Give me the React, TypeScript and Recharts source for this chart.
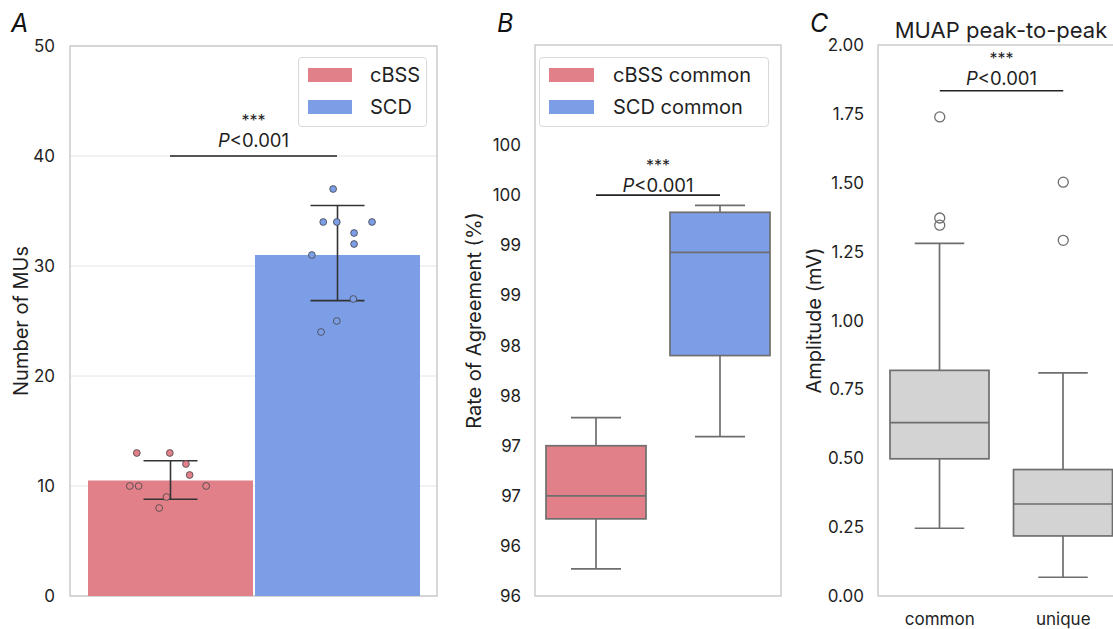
import React from 'react';
import {
  ComposedChart,
  Bar,
  ErrorBar,
  Scatter,
  XAxis,
  YAxis,
  CartesianGrid,
  ReferenceLine,
  ReferenceArea,
  Legend,
} from 'recharts';

const FONT = 'Inter, "Noto Sans", sans-serif';
const INK = '#1f1f1f';
const RED = '#e2808a';
const BLUE = '#7c9ee6';
const BOX_GRAY = '#d3d3d3';
const EDGE = '#6e6e6e';
const FRAME = '#cccccc';

// A: number of MUs
const methodNames = ['cBSS', 'SCD'];
const muMeans = [10.5, 31.0];
const muLow = [8.8, 26.85];
const muHigh = [12.3, 35.5];
const cbssCounts = [13, 13, 12, 11, 10, 10, 10, 9, 8];
const cbssJitter = [-0.318, -0.228, -0.184, -0.174, -0.337, -0.313, -0.129, -0.237, -0.257];
const scdCounts = [37, 34, 34, 34, 33, 32, 31, 27, 25, 24];
const scdJitter = [0.217, 0.19, 0.227, 0.323, 0.274, 0.274, 0.159, 0.272, 0.227, 0.184];
const muTicks = [0, 10, 20, 30, 40, 50];

// B: rate of agreement
const agreeNames = ['cBSS common', 'SCD common'];
const agreeLow = [96.27, 97.59];
const agreeQ1 = [96.77, 98.4];
const agreeMedian = [97.0, 99.43];
const agreeQ3 = [97.5, 99.83];
const agreeHigh = [97.78, 99.9];
const agreeTicks = [96, 96.5, 97, 97.5, 98, 98.5, 99, 99.5, 100, 100.5];
const agreeTickLabels = ['96', '96', '97', '97', '98', '98', '99', '99', '100', '100'];
const agreeBracketX = [-0.252, 0.252];
const agreeBracketY = 100.0;

// C: MUAP amplitude
const ampCats = ['common', 'unique'];
const ampLow = [0.246, 0.068];
const ampQ1 = [0.498, 0.218];
const ampMedian = [0.629, 0.334];
const ampQ3 = [0.819, 0.459];
const ampHigh = [1.28, 0.81];
const outlierCat = [0, 0, 0, 1, 1];
const outlierVals = [1.739, 1.372, 1.346, 1.502, 1.291];
const ampTicks = [0, 0.25, 0.5, 0.75, 1.0, 1.25, 1.5, 1.75, 2.0];

const rowsA = [
  {
    group: 'MUs',
    cBSS: muMeans[0],
    SCD: muMeans[1],
    cBSSErr: [muMeans[0] - muLow[0], muHigh[0] - muMeans[0]],
    SCDErr: [muMeans[1] - muLow[1], muHigh[1] - muMeans[1]],
  },
];
const dotsCbss = cbssCounts.map((v, i) => ({ x: cbssJitter[i], y: v }));
const dotsScd = scdCounts.map((v, i) => ({ x: scdJitter[i], y: v }));

const rowsB = [
  {
    group: 'agreement',
    cbss: [agreeQ1[0], agreeQ3[0]],
    scd: [agreeQ1[1], agreeQ3[1]],
  },
];
const bracketB = agreeBracketX.map((x) => ({ x, y: agreeBracketY }));

const rowsC = ampCats.map((c, i) => ({ cat: c, iqr: [ampQ1[i], ampQ3[i]] }));
const outliers = outlierVals.map((v, i) => ({ x: outlierCat[i], y: v }));

type Stats = { lo: number; q1: number; med: number; q3: number; hi: number };

function renderBox(p: any, s: Stats, fill: string) {
  const { x, y, width, height } = p;
  const top = Math.min(y, y + height);
  const h = Math.abs(height);
  const k = h / (s.q3 - s.q1);
  const py = (v: number) => top + (s.q3 - v) * k;
  const cx = x + width / 2;
  const cap = width / 4;
  const line = { stroke: EDGE, strokeWidth: 1.7 };
  return (
    <g>
      <line x1={cx} x2={cx} y1={py(s.q3)} y2={py(s.hi)} {...line} />
      <line x1={cx - cap} x2={cx + cap} y1={py(s.hi)} y2={py(s.hi)} {...line} />
      <line x1={cx} x2={cx} y1={py(s.q1)} y2={py(s.lo)} {...line} />
      <line x1={cx - cap} x2={cx + cap} y1={py(s.lo)} y2={py(s.lo)} {...line} />
      <rect x={x} y={top} width={width} height={h} fill={fill} {...line} />
      <line x1={x} x2={x + width} y1={py(s.med)} y2={py(s.med)} {...line} />
    </g>
  );
}

function statsAt(i: number, lo: number[], q1: number[], med: number[], q3: number[], hi: number[]): Stats {
  return { lo: lo[i], q1: q1[i], med: med[i], q3: q3[i], hi: hi[i] };
}

function renderSig(p: any, starsDy: number, pDy: number, pSize: number) {
  const vb = p.viewBox || {};
  const cx = vb.x + vb.width / 2;
  return (
    <g>
      <text x={cx} y={vb.y + starsDy} textAnchor="middle" fontSize={16} fill={INK} fontFamily={FONT}>
        ***
      </text>
      <text x={cx} y={vb.y + pDy} textAnchor="middle" fontSize={pSize} fill={INK} fontFamily={FONT}>
        <tspan fontStyle="italic">P</tspan>&lt;0.001
      </text>
    </g>
  );
}

function LegendBox({ names, colors, width, swatch, gap }: any) {
  return (
    <div
      style={{
        width,
        height: 70,
        boxSizing: 'border-box',
        border: '1px solid #d9d9d9',
        borderRadius: 4,
        background: '#fff',
        padding: '1px 0 0 9px',
        fontFamily: FONT,
        fontSize: 20,
        color: INK,
      }}
    >
      {names.map((n: string, i: number) => (
        <div key={n} style={{ display: 'flex', alignItems: 'center', height: 32 }}>
          <span style={{ width: swatch, height: 14, background: colors[i], display: 'inline-block' }} />
          <span style={{ marginLeft: gap, lineHeight: '20px' }}>{n}</span>
        </div>
      ))}
    </div>
  );
}

const tickStyle = { fontSize: 17, fill: INK, fontFamily: FONT };
const axisLabel = (value: string, dx: number) => ({
  value,
  angle: -90,
  position: 'center' as const,
  dx,
  style: { fontSize: 20, fill: INK, fontFamily: FONT, textAnchor: 'middle' },
});

function Dot(color: string) {
  return (p: any) => <circle cx={p.cx} cy={p.cy} r={3.4} fill={color} stroke="#444" strokeWidth={0.8} />;
}

function Ring(p: any) {
  return <circle cx={p.cx} cy={p.cy} r={5} fill="none" stroke={EDGE} strokeWidth={1.3} />;
}

function NoMark() {
  return <g />;
}

const letter = (ch: string, left: number) => (
  <div
    style={{
      position: 'absolute',
      left,
      top: 8,
      fontFamily: FONT,
      fontStyle: 'italic',
      fontSize: 25,
      color: '#111',
      lineHeight: '30px',
    }}
  >
    {ch}
  </div>
);

export default function App() {
  return (
    <div
      style={{
        position: 'fixed',
        left: 0,
        top: 0,
        width: 1113,
        height: 629,
        overflow: 'hidden',
        background: '#fff',
      }}
    >
      {letter('A', 11)}
      {letter('B', 497)}
      {letter('C', 810)}
      <div
        style={{
          position: 'absolute',
          left: 801,
          top: 15,
          width: 400,
          textAlign: 'center',
          fontFamily: FONT,
          fontSize: 22,
          color: INK,
          lineHeight: '30px',
        }}
      >
        MUAP peak-to-peak
      </div>

      {/* A */}
      <div style={{ position: 'absolute', left: 0, top: 0 }}>
        <ComposedChart
          width={450}
          height={629}
          data={rowsA}
          margin={{ top: 46, right: 13, bottom: 33, left: 0 }}
          barGap={2}
          barSize={165}
        >
          <CartesianGrid vertical={false} stroke="#e4e4e4" xAxisId="num" />
          <XAxis xAxisId="cat" dataKey="group" hide />
          <XAxis xAxisId="num" dataKey="x" type="number" domain={[-0.5, 0.5]} allowDataOverflow hide />
          <YAxis
            domain={[0, 50]}
            ticks={muTicks}
            width={70}
            axisLine={false}
            tickLine={false}
            tickSize={0}
            tickMargin={15}
            tick={tickStyle}
            label={axisLabel('Number of MUs', -14)}
          />
          <ReferenceArea
            xAxisId="num"
            x1={-0.5}
            x2={0.5}
            y1={0}
            y2={50}
            fill="none"
            stroke={FRAME}
            strokeWidth={1.5}
            ifOverflow="visible"
          />
          <Bar xAxisId="cat" dataKey="cBSS" name={methodNames[0]} fill={RED} isAnimationActive={false}>
            <ErrorBar dataKey="cBSSErr" width={27} stroke="#333" strokeWidth={1.6} isAnimationActive={false} />
          </Bar>
          <Bar xAxisId="cat" dataKey="SCD" name={methodNames[1]} fill={BLUE} isAnimationActive={false}>
            <ErrorBar dataKey="SCDErr" width={27} stroke="#333" strokeWidth={1.6} isAnimationActive={false} />
          </Bar>
          <Scatter xAxisId="num" data={dotsCbss} dataKey="y" shape={Dot(RED)} legendType="none" isAnimationActive={false} />
          <Scatter xAxisId="num" data={dotsScd} dataKey="y" shape={Dot(BLUE)} legendType="none" isAnimationActive={false} />
          <ReferenceLine
            xAxisId="num"
            segment={[
              { x: -0.2275, y: 40 },
              { x: 0.2275, y: 40 },
            ]}
            stroke="#222"
            strokeWidth={1.5}
            ifOverflow="visible"
            label={(p: any) => renderSig(p, -30, -9, 18.5)}
          />
          <Legend
            layout="vertical"
            align="center"
            verticalAlign="middle"
            wrapperStyle={{ left: 298, top: 57, width: 129, height: 70 }}
            content={() => <LegendBox names={methodNames} colors={[RED, BLUE]} width={129} swatch={44} gap={18} />}
          />
        </ComposedChart>
      </div>

      {/* B */}
      <div style={{ position: 'absolute', left: 450, top: 0 }}>
        <ComposedChart
          width={345}
          height={629}
          data={rowsB}
          margin={{ top: 45, right: 14, bottom: 33, left: 0 }}
          barGap={24}
          barSize={100}
        >
          <XAxis xAxisId="cat" dataKey="group" hide />
          <XAxis xAxisId="num" dataKey="x" type="number" domain={[-0.5, 0.5]} allowDataOverflow hide />
          <YAxis
            domain={[96, 101.5]}
            ticks={agreeTicks}
            tickFormatter={(_v: number, i: number) => agreeTickLabels[i]}
            width={85}
            axisLine={false}
            tickLine={false}
            tickSize={0}
            tickMargin={14}
            tick={tickStyle}
            label={axisLabel('Rate of Agreement (%)', -18.5)}
          />
          <ReferenceArea
            xAxisId="num"
            x1={-0.5}
            x2={0.5}
            y1={96}
            y2={101.5}
            fill="none"
            stroke={FRAME}
            strokeWidth={1.5}
            ifOverflow="visible"
          />
          <Bar
            xAxisId="cat"
            dataKey="cbss"
            name={agreeNames[0]}
            fill={RED}
            isAnimationActive={false}
            shape={(p: any) => renderBox(p, statsAt(0, agreeLow, agreeQ1, agreeMedian, agreeQ3, agreeHigh), RED)}
          />
          <Bar
            xAxisId="cat"
            dataKey="scd"
            name={agreeNames[1]}
            fill={BLUE}
            isAnimationActive={false}
            shape={(p: any) => renderBox(p, statsAt(1, agreeLow, agreeQ1, agreeMedian, agreeQ3, agreeHigh), BLUE)}
          />
          <Scatter
            xAxisId="num"
            data={bracketB}
            dataKey="y"
            shape={NoMark}
            line={{ stroke: '#222', strokeWidth: 1.5 }}
            legendType="none"
            isAnimationActive={false}
          />
          <ReferenceLine
            xAxisId="num"
            segment={[
              { x: agreeBracketX[0], y: agreeBracketY },
              { x: agreeBracketX[1], y: agreeBracketY },
            ]}
            stroke="#222"
            strokeWidth={1.5}
            ifOverflow="visible"
            label={(p: any) => renderSig(p, -24, -3.5, 18.5)}
          />
          <Legend
            layout="vertical"
            align="center"
            verticalAlign="middle"
            wrapperStyle={{ left: 89, top: 57, width: 230, height: 70 }}
            content={() => <LegendBox names={agreeNames} colors={[RED, BLUE]} width={230} swatch={45} gap={19} />}
          />
        </ComposedChart>
      </div>

      {/* C */}
      <div style={{ position: 'absolute', left: 795, top: 0 }}>
        <ComposedChart
          width={340}
          height={629}
          data={rowsC}
          margin={{ top: 45, right: 10, bottom: 0, left: 0 }}
          barSize={99}
        >
          <XAxis
            xAxisId="cat"
            dataKey="cat"
            height={33}
            axisLine={false}
            tickLine={false}
            tickSize={0}
            tickMargin={17}
            tick={tickStyle}
          />
          <XAxis xAxisId="num" dataKey="x" type="number" domain={[-0.5, 1.5]} allowDataOverflow hide />
          <YAxis
            domain={[0, 2]}
            ticks={ampTicks}
            tickFormatter={(v: number) => v.toFixed(2)}
            width={83}
            axisLine={false}
            tickLine={false}
            tickSize={0}
            tickMargin={14}
            tick={tickStyle}
            label={axisLabel('Amplitude (mV)', -22.5)}
          />
          <ReferenceArea
            xAxisId="num"
            x1={-0.5}
            x2={1.5}
            y1={0}
            y2={2}
            fill="none"
            stroke={FRAME}
            strokeWidth={1.5}
            ifOverflow="visible"
          />
          <Bar
            xAxisId="cat"
            dataKey="iqr"
            fill={BOX_GRAY}
            isAnimationActive={false}
            shape={(p: any) =>
              renderBox(p, statsAt(p.index, ampLow, ampQ1, ampMedian, ampQ3, ampHigh), BOX_GRAY)
            }
          />
          <Scatter xAxisId="num" data={outliers} dataKey="y" shape={Ring} isAnimationActive={false} />
          <ReferenceLine
            xAxisId="num"
            segment={[
              { x: 0, y: 1.834 },
              { x: 1, y: 1.834 },
            ]}
            stroke="#222"
            strokeWidth={1.5}
            ifOverflow="visible"
            label={(p: any) => renderSig(p, -27, -5.7, 18.5)}
          />
        </ComposedChart>
      </div>
    </div>
  );
}
